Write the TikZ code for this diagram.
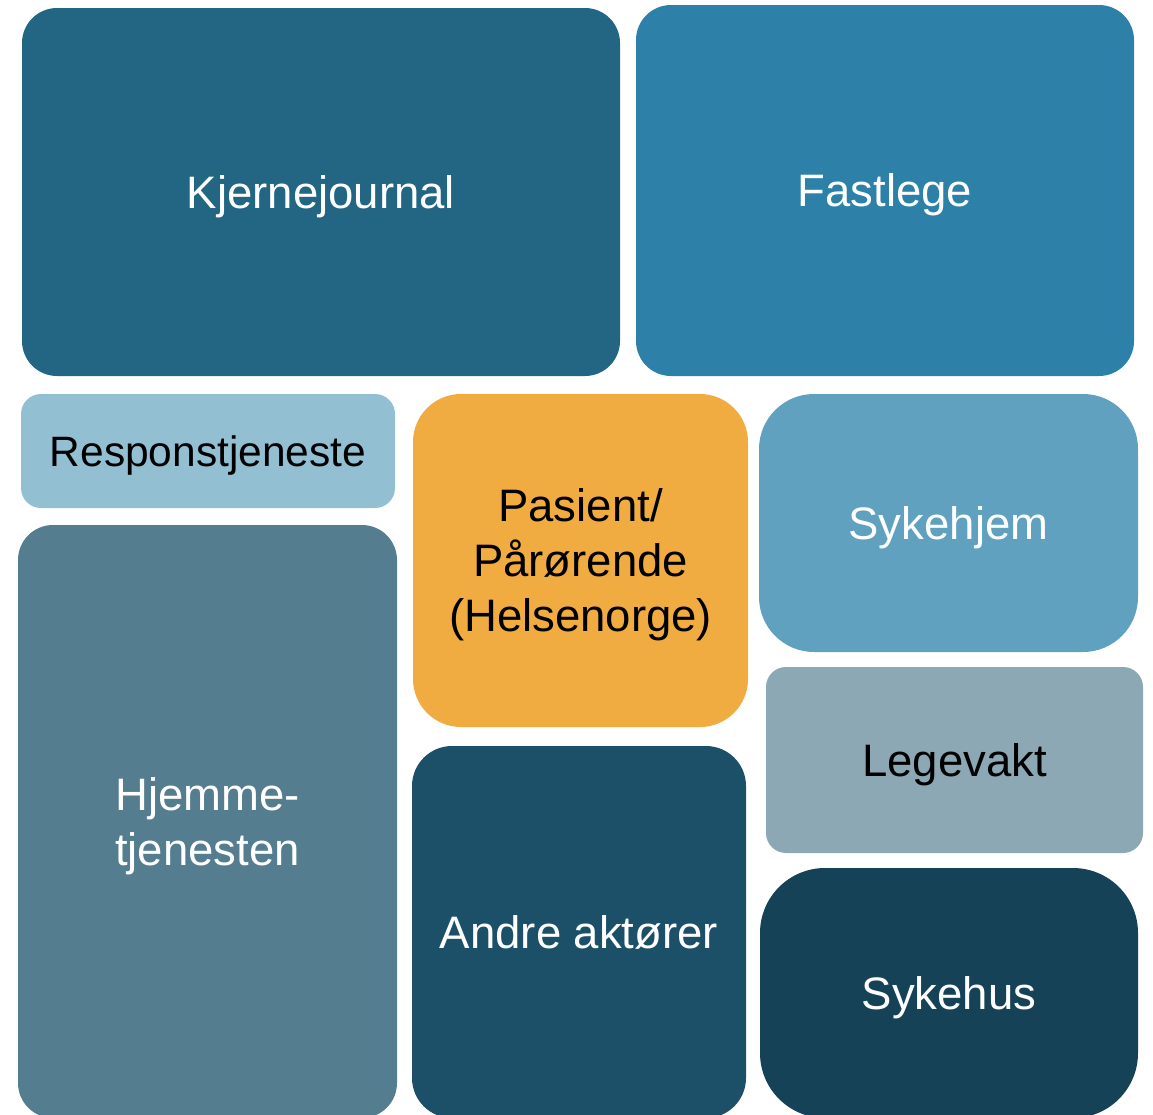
\documentclass[tikz,border=0pt]{standalone}
\usepackage{fontspec}
\setmainfont{Liberation Sans}
\usepackage{tikz}
\usetikzlibrary{positioning}

\definecolor{kjerneblue}{HTML}{226683}
\definecolor{fastblue}{HTML}{2D81A8}
\definecolor{responsblue}{HTML}{93BFD3}
\definecolor{pasientorange}{HTML}{F0AC40}
\definecolor{sykehjemblue}{HTML}{5FA1BE}
\definecolor{hjemmeblue}{HTML}{547D8F}
\definecolor{legevaktgrey}{HTML}{8BA8B4}
\definecolor{andreblue}{HTML}{1C5069}
\definecolor{sykehusblue}{HTML}{164257}

\tikzset{
    tile/.style={rectangle, inner sep=0pt, align=center, text=white, text depth=0pt,
        font=\fontsize{45.5}{55}\selectfont}, % felles stil for flisene
    darktext/.style={text=black}
}

\begin{document}
\begin{tikzpicture}[x=1pt, y=-1pt]

    \useasboundingbox (0,0) rectangle (1153,1114);
    \clip (0,0) rectangle (1153,1114);

    \node[tile, fill=kjerneblue, rounded corners=35pt,
          minimum width=598, minimum height=368] (kjerne) at (321,192) {Kjernejournal};
    \node[tile, fill=fastblue, rounded corners=35pt,
          minimum width=498, minimum height=371] (fastlege) at (885,190.5) {Fastlege};

    \node[tile, darktext, fill=responsblue, rounded corners=20pt, font=\fontsize{42.5}{51}\selectfont,
          minimum width=374, minimum height=114] (respons) at (208,451) {Responstjeneste};
    \node[tile, darktext, fill=pasientorange, rounded corners=48pt,
          minimum width=335, minimum height=333] (pasient) at (580.5,560.5) {Pasient/\\Pårørende\\(Helsenorge)};
    \node[tile, fill=sykehjemblue, rounded corners=55pt,
          minimum width=379, minimum height=258] (sykehjem) at (948.5,523) {Sykehjem};

    \node[tile, fill=hjemmeblue, rounded corners=35pt,
          minimum width=379, minimum height=593] (hjemme) at (207.5,821.5) {Hjemme-\\tjenesten};
    \node[tile, darktext, fill=legevaktgrey, rounded corners=20pt,
          minimum width=377, minimum height=186] (legevakt) at (954.5,760) {Legevakt};
    \node[tile, fill=andreblue, rounded corners=40pt,
          minimum width=334, minimum height=372] (andre) at (579,932) {Andre aktører};
    \node[tile, fill=sykehusblue, rounded corners=65pt,
          minimum width=378, minimum height=250] (sykehus) at (949,993) {Sykehus};

\end{tikzpicture}
\end{document}
